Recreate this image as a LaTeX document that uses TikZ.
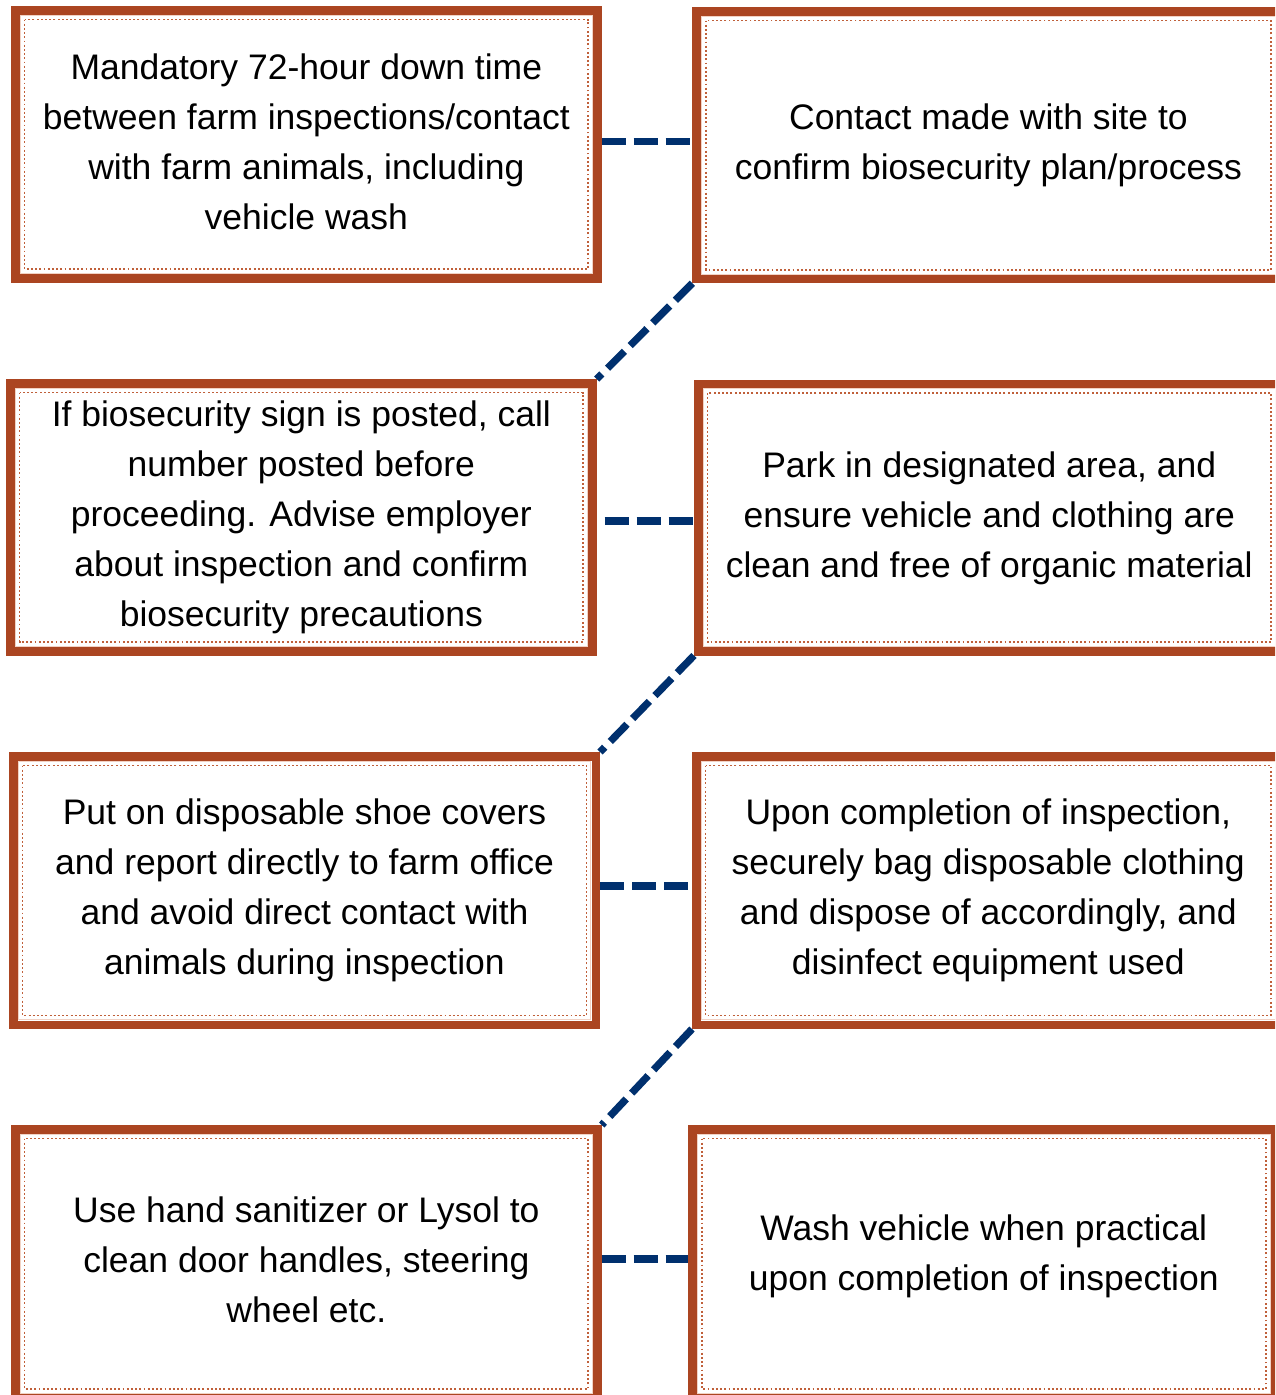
\documentclass[tikz,border=0pt]{standalone}
\usepackage{fontspec}
\setmainfont{Liberation Sans}
\definecolor{framebrown}{HTML}{AB4521}
\definecolor{dotbrown}{HTML}{C0603A}
\definecolor{palebrown}{HTML}{F2D2C4}
\definecolor{navy}{HTML}{00306E}
\tikzset{
  box/.style={draw=framebrown, line width=8.5pt, fill=white, inner sep=0pt},
  label/.style={align=center, font=\fontsize{35.5}{50}\selectfont, text=black, inner sep=0pt},
  dotline/.style={draw=dotbrown, line width=1.9pt, dash pattern=on 1.9pt off 2.3pt},
  paleline/.style={draw=palebrown, line width=0.8pt},
  conn/.style={draw=navy, line width=7.3pt, dash pattern=on 24pt off 8pt}
}
\begin{document}
\begin{tikzpicture}[x=1pt,y=-1pt]
\useasboundingbox (0,0) rectangle (1275,1395);
\clip (0,0) rectangle (1275,1395);
\node[box, minimum width=582.2pt, minimum height=268.2pt] (b1) at (306.35,144.35) {};
\node[box, minimum width=583.7pt, minimum height=267.8pt] (b2) at (988.4,145.15) {};
\node[box, minimum width=582.2pt, minimum height=268pt] (b3) at (301.35,517.25) {};
\node[box, minimum width=582pt, minimum height=267.5pt] (b4) at (989.25,517.5) {};
\node[box, minimum width=582.5pt, minimum height=268.5pt] (b5) at (304.5,890.5) {};
\node[box, minimum width=584pt, minimum height=268.5pt] (b6) at (988.25,890.5) {};
\node[box, minimum width=582.2pt, minimum height=269pt] (b7) at (306.35,1263.75) {};
\node[box, minimum width=582.4pt, minimum height=269pt] (b8) at (983.75,1263.75) {};
\foreach \n in {b1,b2,b3,b4,b5,b6,b7,b8}{
  \draw[paleline] ([shift={(9.3,9.3)}]\n.north west) rectangle ([shift={(-9.3,-9.3)}]\n.south east);
  \draw[dotline] ([shift={(13.5,13.5)}]\n.north west) rectangle ([shift={(-13.5,-13.5)}]\n.south east);
}
\node[label] (t1) at ([yshift=3pt]b1.center)
  {Mandatory 72-hour down time\\between farm inspections/contact\\with farm animals, including\\vehicle wash};
\node[label] (t2) at (b2.center)
  {Contact made with site to\\confirm biosecurity plan/process};
\node[label] (t3) at (b3.center)
  {If biosecurity sign is posted, call\\number posted before\\proceeding. Advise employer\\about inspection and confirm\\biosecurity precautions};
\node[label] (t4) at ([yshift=-1pt]b4.center)
  {Park in designated area, and\\ensure vehicle and clothing are\\clean and free of organic material};
\node[label] (t5) at (b5.center)
  {Put on disposable shoe covers\\and report directly to farm office\\and avoid direct contact with\\animals during inspection};
\node[label] (t6) at (b6.center)
  {Upon completion of inspection,\\securely bag disposable clothing\\and dispose of accordingly, and\\disinfect equipment used};
\node[label] (t7) at ([yshift=4pt]b7.center)
  {Use hand sanitizer or Lysol to\\clean door handles, steering\\wheel etc.};
\node[label] (t8) at ([yshift=7.5pt]b8.center)
  {Wash vehicle when practical\\upon completion of inspection};
\draw[conn] ([yshift=2.6pt]b1.east) -- ([yshift=2.6pt]b1.east -| b2.west);
\draw[conn] ([xshift=8pt,yshift=-3.8pt]b3.east) -- ([yshift=-3.8pt]b3.east -| b4.west);
\draw[conn] ([yshift=4.5pt]b5.east) -- ([yshift=4.5pt]b5.east -| b6.west);
\draw[conn] ([yshift=4.7pt]b7.east) -- ([yshift=4.7pt]b7.east -| b8.west);
\draw[conn] (b2.south west) -- (b3.north east);
\draw[conn] (b4.south west) -- (b5.north east);
\draw[conn] (b6.south west) -- (b7.north east);
\end{tikzpicture}
\end{document}
